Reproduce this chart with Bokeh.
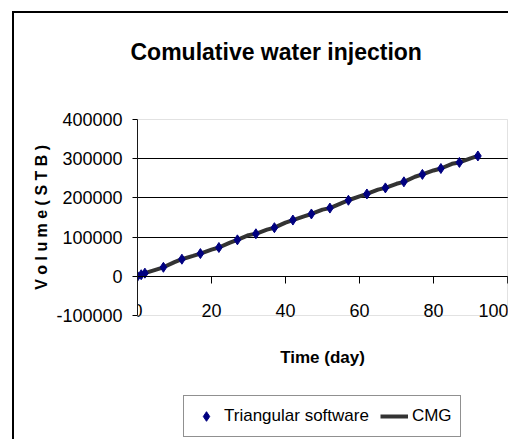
from bokeh.plotting import figure
from bokeh.models import FixedTicker, PrintfTickFormatter, Legend, LegendItem, Title, BoxAnnotation
from bokeh.embed import file_html
from bokeh.resources import INLINE

# ---- data ----
days_tri = [0, 1, 2, 7, 12, 17, 22, 27, 32, 37, 42, 47, 52, 57, 62, 67, 72, 77, 82, 87, 92]
vol_tri = [0, 4000, 8000, 23000, 43600, 58000, 73500, 93000, 108500, 124000, 143500,
           159000, 174000, 194000, 210000, 225500, 241000, 260000, 275000, 290500, 307000]

days_cmg = [0, 2, 7, 10, 12, 15, 17, 20, 22, 25, 27, 30, 32, 35, 37, 40, 42, 45, 47, 50,
            52, 55, 57, 60, 62, 65, 67, 70, 72, 75, 77, 80, 82, 85, 87, 90, 92]
vol_cmg = [0, 8000, 23000, 36000, 43600, 52000, 58000, 68000, 73500, 86000, 93000, 105000,
           108500, 119000, 124000, 137000, 143500, 153000, 159000, 170000, 174000, 186000,
           194000, 204000, 210000, 221000, 225500, 236000, 241000, 254000, 260000, 270000,
           275000, 287000, 290500, 301000, 307000]

x_ticks = [0, 20, 40, 60, 80, 100]
y_ticks = [-100000, 0, 100000, 200000, 300000, 400000]

title_text = "Comulative water injection"
x_label = "Time (day)"
y_label = "V o l u m e  ( S T B )"
series_names = ["Triangular software", "CMG"]

FONT = "Liberation Sans"

# ---- layout (pixels) ----
PLOT_W, PLOT_H = 370, 196          # plot area (axes box)
EXTRA_BELOW = 123                  # room under the plot area for the x title and legend
x_lo, x_hi = x_ticks[0], x_ticks[-1]
y_lo, y_hi = y_ticks[0], y_ticks[-1]
x_per_px = (x_hi - x_lo) / PLOT_W
y_per_px = (y_hi - y_lo) / PLOT_H

p = figure(frame_width=PLOT_W + 1, frame_height=PLOT_H + 1 + EXTRA_BELOW,
           output_backend="svg", toolbar_location=None,
           x_range=(x_lo, x_hi + x_per_px),
           y_range=(y_lo - EXTRA_BELOW * y_per_px, y_hi + y_per_px),
           min_border_left=123, min_border_right=0, min_border_top=105, min_border_bottom=1)

# outer chart border (left / top edges visible in the window)
p.styles = {"margin-left": "12px", "margin-top": "11px",
            "border-left": "2px solid black", "border-top": "2px solid black"}

p.background_fill_color = "white"
p.border_fill_color = "white"
p.outline_line_color = None

# plot-area border (grey)
plot_box = BoxAnnotation(left=x_lo, right=x_hi, bottom=y_lo, top=y_hi,
                         fill_alpha=0, line_color="#a0a0a0", line_width=1)
p.add_layout(plot_box)

# title: spacer nearest the frame, then the main title
p.title.text = ""
spacer = Title(text=" ", standoff=39, text_font=FONT, text_font_size="10px")
p.add_layout(spacer, "above")
main_title = Title(text=title_text, align="left", offset=-7, vertical_align="top", standoff=0,
                   text_font=FONT, text_font_size="23px", text_font_style="bold",
                   text_color="black")
p.add_layout(main_title, "above")

# grids
p.xgrid.visible = False
p.ygrid.ticker = FixedTicker(ticks=y_ticks[1:-1])
p.ygrid.grid_line_color = "black"
p.ygrid.grid_line_width = 1

# x axis crossing at y = 0
xa = p.xaxis[0]
xa.fixed_location = 0
xa.bounds = (x_lo, x_hi)
xa.ticker = FixedTicker(ticks=x_ticks)
xa.axis_line_color = "black"
xa.major_tick_line_color = "black"
xa.major_tick_out = 7
xa.major_tick_in = 0
xa.minor_tick_line_color = None
xa.major_label_text_font = FONT
xa.major_label_text_font_size = "18px"
xa.major_label_text_color = "black"
xa.major_label_standoff = 21
xa.axis_label = x_label
xa.axis_label_text_font = FONT
xa.axis_label_text_font_size = "17px"
xa.axis_label_text_font_style = "bold"
xa.axis_label_text_color = "black"
xa.axis_label_standoff = 27

ya = p.yaxis[0]
ya.bounds = (y_lo, y_hi)
ya.ticker = FixedTicker(ticks=y_ticks)
ya.formatter = PrintfTickFormatter(format="%d")
ya.axis_line_color = "black"
ya.major_tick_line_color = "black"
ya.major_tick_out = 5
ya.major_tick_in = 0
ya.minor_tick_line_color = None
ya.major_label_text_font = FONT
ya.major_label_text_font_size = "18px"
ya.major_label_text_color = "black"
ya.major_label_standoff = 10

# y axis title, placed beside the plot area (left panel)
y_title = Title(text=y_label, align="right", offset=22, vertical_align="bottom", standoff=7,
                text_font=FONT, text_font_size="16px", text_font_style="bold",
                text_color="black")
p.add_layout(y_title, "left")

# data
r_cmg = p.line(days_cmg, vol_cmg, line_color="#333333", line_width=4)
r_tri = p.scatter(days_tri, vol_tri, marker="diamond", size=10,
                  fill_color="#000080", line_color="#000080")

legend = Legend(items=[LegendItem(label=series_names[0], renderers=[r_tri]),
                       LegendItem(label=series_names[1], renderers=[r_cmg])],
                location=(46, 1), orientation="horizontal",
                glyph_width=28, glyph_height=24, label_height=24, label_standoff=4, spacing=11,
                padding=8, margin=0, border_line_color="#222222", border_line_width=1,
                label_text_font=FONT, label_text_font_size="17px", label_text_color="black",
                background_fill_color="white", background_fill_alpha=1)
p.add_layout(legend, "center")

open("out.html", "w").write(file_html(p, INLINE))
